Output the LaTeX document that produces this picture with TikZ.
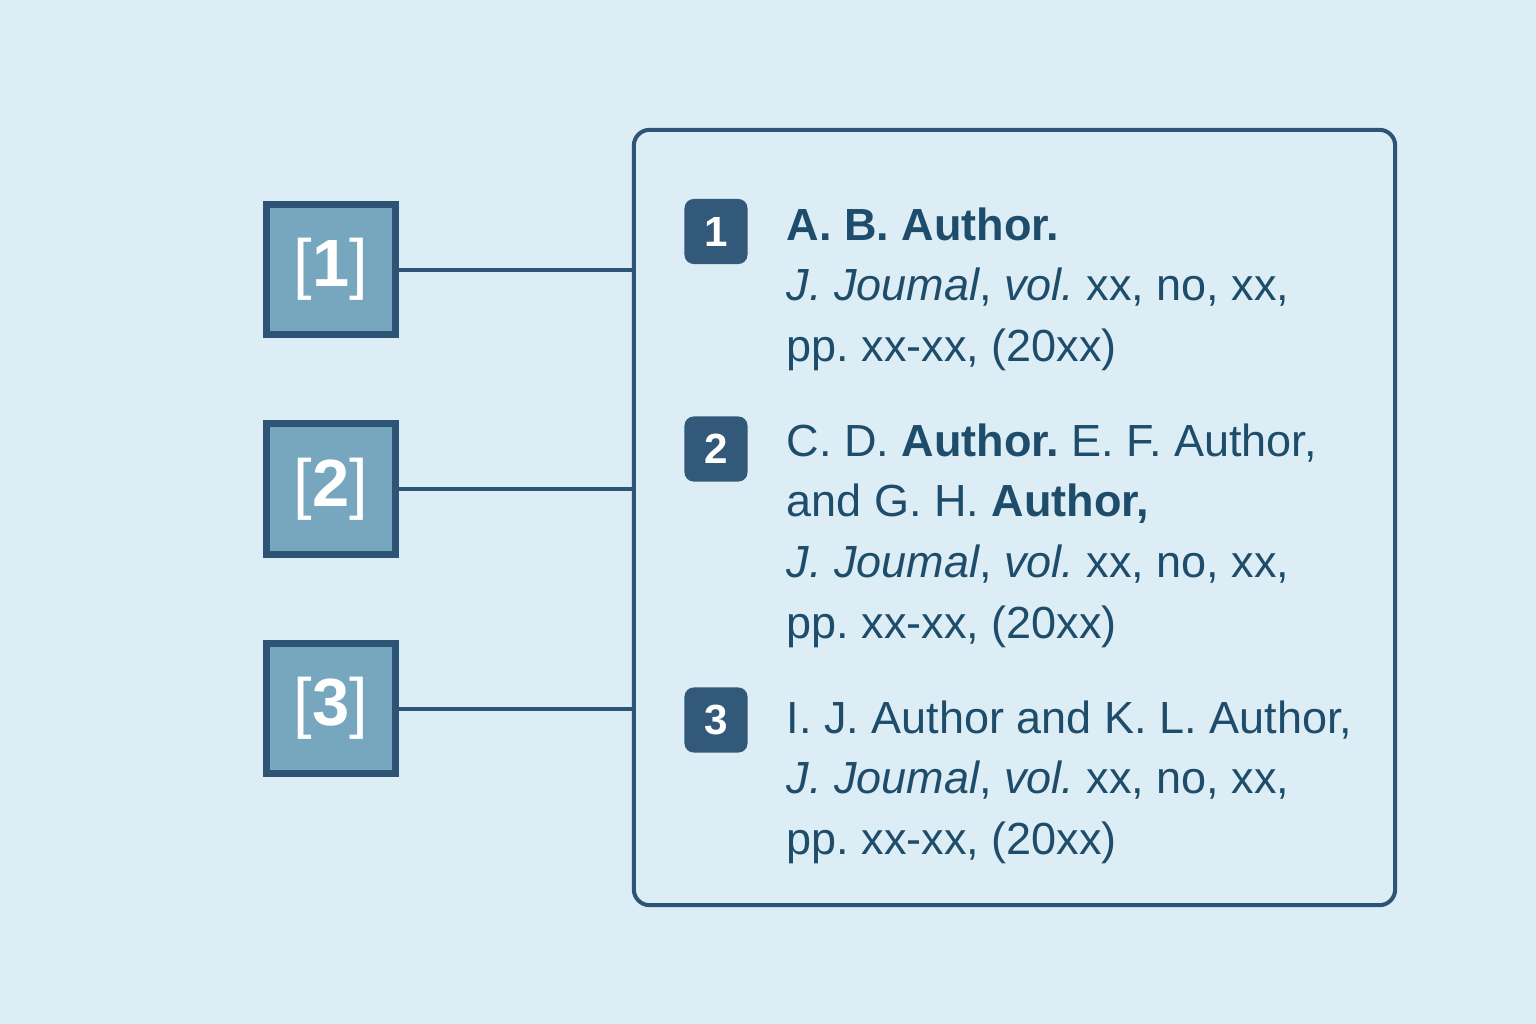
\documentclass[tikz,border=0pt]{standalone}
\usepackage{fontspec}
\setmainfont{Liberation Sans}
\frenchspacing
\definecolor{bgc}{HTML}{DCEDF5}
\definecolor{dark}{HTML}{2E5475}
\definecolor{boxfill}{HTML}{76A7BF}
\definecolor{txt}{HTML}{1E4D6B}
\definecolor{badgec}{HTML}{33597A}
\begin{document}
\begin{tikzpicture}[x=0.01cm,y=-0.01cm,
  refbox/.style={draw=dark,fill=boxfill,line width=7*0.2845pt,minimum width=128*0.2845pt,minimum height=130*0.2845pt,inner sep=0pt,text=white,font=\fontsize{19}{19}\selectfont},
  badge/.style={fill=badgec,rounded corners=2.6pt,minimum width=63*0.2845pt,minimum height=65*0.2845pt,inner sep=0pt,text=white,font=\fontsize{12}{12}\selectfont\bfseries},
  conn/.style={draw=dark,line width=4*0.2845pt},
  reftxt/.style={anchor=base west,inner sep=0pt,text=txt,font=\fontsize{12.8}{14}\selectfont}]
\fill[bgc] (0,0) rectangle (1536,1024);
\useasboundingbox (0,0) rectangle (1536,1024);
% big box
\node[draw=dark,line width=4*0.2845pt,rounded corners=4.5pt,minimum width=761*0.2845pt,minimum height=775*0.2845pt,inner sep=0pt] (list) at (1014.5,517.5) {};
% left boxes
\node[refbox] (r1) at (331,269.5) {[\textbf{1}]};
\node[refbox] (r2) at (331,489) {[\textbf{2}]};
\node[refbox] (r3) at (331,708.5) {[\textbf{3}]};
\draw[conn] (r1.east) -- (r1.east -| list.west);
\draw[conn] (r2.east) -- (r2.east -| list.west);
\draw[conn] (r3.east) -- (r3.east -| list.west);
% badges
\node[badge] (b1) at (716,231.5) {1};
\node[badge] (b2) at (716,449) {2};
\node[badge] (b3) at (716,720) {3};
% entry 1
\node[reftxt] (e1a) at (786,240) {\textbf{A. B. Author.}};
\node[reftxt] (e1b) at (786,300) {\textit{J. Joumal}, \textit{vol.} xx, no, xx,};
\node[reftxt] (e1c) at (786,361) {pp. xx-xx, (20xx)};
% entry 2
\node[reftxt] (e2a) at (786,456) {C. D. \textbf{Author.} E. F. Author,};
\node[reftxt] (e2b) at (786,516) {and G. H. \textbf{Author,}};
\node[reftxt] (e2c) at (786,577) {\textit{J. Joumal}, \textit{vol.} xx, no, xx,};
\node[reftxt] (e2d) at (786,638) {pp. xx-xx, (20xx)};
% entry 3
\node[reftxt] (e3a) at (786,733) {I. J. Author and K. L. Author,};
\node[reftxt] (e3b) at (786,793) {\textit{J. Joumal}, \textit{vol.} xx, no, xx,};
\node[reftxt] (e3c) at (786,854) {pp. xx-xx, (20xx)};
\end{tikzpicture}
\end{document}
